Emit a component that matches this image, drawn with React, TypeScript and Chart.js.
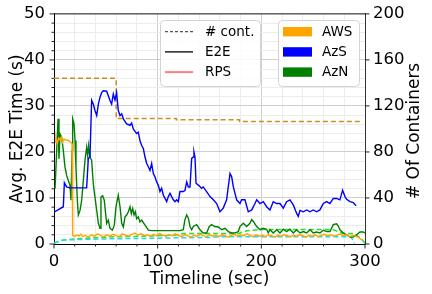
import React, { useEffect, useRef } from 'react';
import { Chart, registerables } from 'chart.js';

Chart.register(...registerables);

const FONT = '"DejaVu Sans", sans-serif';

// E2E time (s), pairs of [time sec, value]
const azsE2E: [number, number][] = [
  [0, 6.9], [9, 8.1], [10, 13.3], [12.2, 12.4], [15.4, 12.2], [31.5, 12.2], [33.1, 18.6], [34.7, 18.9],
  [36.3, 31.2], [37.9, 30.4], [39.5, 29.0], [41.2, 27.9], [42.8, 30.4], [44.4, 31.9], [46, 32.9], [47.6, 33.3],
  [50.8, 33.2], [52.4, 32.2], [54, 31.2], [55.6, 30.4], [57.2, 32.6], [58.8, 31.3], [60.4, 32.9], [62, 29.0],
  [63.7, 27.9], [65.3, 28.3], [66.9, 27.2], [70.1, 26.1], [73.3, 25.8], [74.9, 26.3], [76.5, 25.0], [79.7, 24.0],
  [81.3, 24.3], [82.9, 22.5], [84.6, 21.4], [86.2, 20.7], [87.8, 18.9], [89.4, 17.5], [91, 16.8], [92.6, 16.0],
  [94.2, 17.5], [95.8, 15.3], [97.4, 14.6], [99, 13.5], [100.6, 12.8], [102.2, 11.4], [103.8, 12.1], [105.5, 10.6],
  [107.1, 9.9], [108.7, 9.2], [110.3, 10.3], [111.9, 11.0], [113.5, 10.3], [115.1, 9.6], [116.7, 9.2], [118.3, 9.6],
  [119.9, 9.2], [121.5, 11.4], [124.7, 11.4], [126.3, 11.6], [128, 13.5], [129.6, 12.4], [131.2, 12.4], [132.8, 18.6],
  [134.4, 18.9], [135, 20.0], [136, 18.9], [137, 13.2], [139.2, 12.8], [142.4, 12.1], [144, 12.4], [147.2, 11.4],
  [150.5, 10.3], [153.7, 9.6], [156.9, 8.8], [160.1, 7.0], [163.3, 7.8], [166.5, 9.6], [168.1, 12.4], [169.8, 15.3],
  [171.4, 14.6], [173, 12.4], [176.2, 9.6], [177.8, 9.2], [179.4, 8.8], [181, 9.6], [184.2, 9.6], [187.4, 7.0],
  [190.7, 7.4], [193.9, 8.8], [195.5, 9.6], [198.7, 8.8], [201.9, 9.2], [205.1, 8.1], [208.3, 7.4], [211.5, 9.2],
  [214.8, 8.8], [218, 8.8], [221.2, 7.8], [224.4, 9.2], [227.6, 9.6], [230.8, 8.5], [234, 6.7], [235.6, 6.0],
  [237.3, 7.3], [240.5, 7.0], [243.7, 7.4], [246.9, 7.0], [250.1, 7.4], [253.3, 7.0], [256.5, 7.4], [259.8, 8.8],
  [263, 9.2], [266.2, 8.8], [269.4, 9.9], [272.6, 9.9], [275.8, 9.6], [278.4, 11.7], [280.7, 10.3], [282.3, 9.7],
  [285.5, 9.2], [288.7, 9.0], [291.3, 8.3],
];

const aznE2E: [number, number][] = [
  [1, 12.0], [2.6, 20.3], [3.9, 27.2], [4.8, 18.5], [5.8, 23.9], [7.4, 23.2], [9.0, 20.3], [10.6, 16.7],
  [12.2, 14.9], [13.8, 13.8], [15.4, 12.8], [16.4, 9.5], [17.4, 20.3], [18.0, 27.2], [19.3, 26.1], [20.3, 22.5],
  [21.2, 16.7], [22.5, 9.5], [23.5, 6.3], [25.1, 7.3], [26.7, 9.5], [28.3, 13.8], [29.9, 18.2], [31.5, 21.0],
  [32.5, 19.2], [33.4, 21.4], [34.7, 18.9], [36.3, 18.2], [37.9, 13.1], [39.5, 10.2], [41.2, 7.3], [42.8, 4.5],
  [44.4, 3.4], [45.3, 10.2], [46.9, 10.5], [48.5, 9.5], [49.8, 6.6], [50.8, 4.5], [52.4, 5.2], [54, 3.4],
  [56.3, 3.0], [58.2, 4.1], [59.8, 8.1], [62, 10.6], [63.7, 8.1], [65.3, 4.5], [66.9, 3.7], [68.5, 5.9],
  [70.1, 6.3], [71.7, 7.0], [73.3, 8.1], [74.6, 6.6], [75.9, 7.7], [77.2, 6.3], [78.5, 7.0], [79.7, 5.5],
  [81.3, 5.9], [82.9, 4.8], [84.6, 5.2], [87.8, 4.1], [91, 3.0], [94.2, 2.9], [121.5, 2.9], [124.7, 3.1],
  [126.3, 5.3], [128, 6.3], [129.6, 5.6], [131.2, 3.8], [132.8, 3.1], [134.4, 3.8], [137.6, 4.2], [140.8, 3.1],
  [144, 2.4], [147.2, 2.4], [149.8, 3.8], [152, 4.2], [155, 3.8], [158.5, 3.7], [161.7, 3.1], [165, 3.4],
  [168.1, 2.7], [171.4, 2.4], [174.6, 2.4], [177.8, 2.7], [179.4, 3.8], [182.6, 4.5], [185.8, 3.8], [189, 4.5],
  [190.7, 5.3], [192.3, 4.9], [195.5, 3.8], [198.7, 3.1], [201.9, 3.4], [205.1, 3.2], [206.7, 2.4], [208.3, 3.1],
  [211.5, 2.4], [214.8, 3.1], [218, 2.4], [221.2, 3.2], [224.4, 2.7], [227.6, 3.2], [230.8, 2.4], [234, 3.1],
  [237.3, 2.4], [240.5, 2.7], [243.7, 2.4], [247, 3.1], [250.1, 2.4], [253.3, 2.6], [256.5, 2.4], [259.8, 3.0],
  [263, 2.7], [266.2, 2.7], [269.4, 4.2], [272.6, 4.4], [274.2, 3.9], [275.8, 3.1], [279, 2.4], [282.3, 2.0],
  [285.5, 1.5], [288.7, 1.5], [291.9, 2.0], [295.1, 2.6], [298.4, 2.6], [300, 2.4],
];

const awsE2E: [number, number][] = [
  [1, 22.1], [1.9, 23.2], [3.2, 21.8], [4.5, 23.0], [5.8, 22.6], [7.1, 23.2], [8.4, 22.1], [9.6, 22.8],
  [11.6, 22.6], [13.8, 22.5], [16.1, 22.1], [17.4, 21.8], [18, 1.9], [20, 1.6], [22, 2.0], [24, 1.7],
  [26, 2.1], [28, 1.6], [30, 1.9], [33, 1.5], [36, 2.0], [39, 1.7], [42, 2.2], [45, 1.8], [48, 1.6],
  [51, 2.0], [54, 1.7], [57, 2.1], [60, 1.8], [63, 1.6], [66, 2.2], [69, 1.9], [72, 1.7], [75, 2.1],
  [78, 2.4], [81, 1.9], [84, 2.2], [87, 1.8], [90, 2.0], [93, 1.7], [96, 2.1], [99, 1.8], [102, 2.3],
  [105, 1.9], [108, 1.7], [111, 2.0], [114, 1.8], [117, 2.2], [120, 1.9], [123, 1.6], [126, 2.0],
  [129, 1.8], [132, 1.5], [135, 1.9], [138, 1.7], [141, 2.1], [144, 1.8], [147, 1.6], [150, 2.0],
  [153, 1.7], [156, 1.9], [159, 1.6], [162, 2.0], [165, 1.8], [168, 1.5], [171, 1.9], [174, 2.1],
  [177, 1.7], [180, 2.0], [183, 1.8], [186, 2.2], [189, 1.9], [192, 1.6], [195, 2.0], [198, 1.7],
  [201, 1.9], [204, 1.6], [207, 2.0], [210, 1.8], [213, 1.5], [216, 1.9], [219, 1.7], [222, 2.0],
  [225, 1.8], [228, 1.6], [231, 1.9], [234, 1.7], [237, 2.0], [240, 1.8], [243, 1.5], [246, 1.9],
  [249, 1.7], [252, 2.0], [255, 1.6], [258, 1.9], [261, 2.1], [264, 1.8], [267, 2.0], [270, 1.7],
  [273, 1.9], [276, 2.2], [279, 1.8], [282, 2.0], [285, 1.6], [288, 1.9], [291, 1.7], [294, 1.4], [296.7, 0.9],
];

// # of containers (right axis)
const awsCont: [number, number][] = [[0, 144], [60, 144], [60, 109], [118, 109], [118, 108], [179, 108], [179, 106.5], [295, 106.5]];
const azsCont: [number, number][] = [
  [0, 0.6], [3, 1.8], [9, 3.5], [20, 3.8], [28, 4.0], [60, 4.6], [93, 4.9], [124, 5.5], [150, 5.6],
  [160, 6.3], [286, 6.3], [288, 4.0], [290, 0.6],
];
const aznCont: [number, number][] = [
  [0, 0.6], [6, 2.9], [15, 4], [28, 4.9], [60, 6.3], [93, 6.9], [118, 7.8], [125, 9.2], [178, 9.2],
  [186, 11.5], [200, 12.7], [268, 12.7], [272, 11.5], [279, 9.2], [290, 9.2], [297, 4], [300, 0.6],
];

const legendLeft = ['# cont.', 'E2E', 'RPS'];
const legendRight = ['AWS', 'AzS', 'AzN'];

const toXY = (arr: [number, number][]) => arr.map(([x, y]) => ({ x, y }));

const decor = {
  id: 'decor',
  afterDraw(chart: any) {
    const ctx = chart.ctx as CanvasRenderingContext2D;
    const { left, right, top, bottom } = chart.chartArea;
    const ys = chart.scales.y;
    const y1 = chart.scales.y1;
    const xs = chart.scales.x;
    ctx.save();
    // top spine
    ctx.strokeStyle = '#222';
    ctx.lineWidth = 1;
    ctx.beginPath();
    ctx.moveTo(left, top);
    ctx.lineTo(right, top);
    ctx.stroke();
    // tick marks
    ctx.strokeStyle = '#222';
    ctx.lineWidth = 1;
    for (let v = 0; v <= 50; v += 2) {
      const p = ys.getPixelForValue(v);
      const len = v % 10 === 0 ? 4.5 : 2.5;
      ctx.beginPath();
      ctx.moveTo(left - len, p);
      ctx.lineTo(left, p);
      ctx.stroke();
    }
    for (let v = 0; v <= 300; v += 20) {
      const p = xs.getPixelForValue(v);
      const len = v % 100 === 0 ? 4.5 : 2.5;
      ctx.beginPath();
      ctx.moveTo(p, bottom);
      ctx.lineTo(p, bottom + len);
      ctx.stroke();
    }
    for (let v = 0; v <= 200; v += 40) {
      const p = y1.getPixelForValue(v);
      ctx.beginPath();
      ctx.moveTo(right, p);
      ctx.lineTo(right + 4.5, p);
      ctx.stroke();
    }
    // right title
    ctx.fillStyle = '#000';
    ctx.font = `17px ${FONT}`;
    ctx.textAlign = 'center';
    ctx.textBaseline = 'middle';
    ctx.save();
    ctx.translate(415, (top + bottom) / 2 + 2);
    ctx.rotate(-Math.PI / 2);
    ctx.fillText('# Of Containers', 0, 0);
    ctx.restore();

    // legends
    const rows = [31.7, 51.9, 72.1];
    const box = (x: number, y: number, w: number, h: number) => {
      ctx.beginPath();
      (ctx as any).roundRect(x, y, w, h, 4);
      ctx.fillStyle = 'rgba(255,255,255,0.85)';
      ctx.fill();
      ctx.strokeStyle = '#d3d3d3';
      ctx.lineWidth = 1;
      ctx.stroke();
    };
    box(160.5, 20.5, 100, 66);
    box(278.5, 20.5, 81, 66);
    const lineStyles = [
      { c: '#555555', dash: [3, 2], w: 1.2 },
      { c: '#000000', dash: [], w: 1.3 },
      { c: '#ff7f7f', dash: [], w: 2 },
    ];
    ctx.font = `13.5px ${FONT}`;
    ctx.textAlign = 'left';
    ctx.textBaseline = 'middle';
    legendLeft.forEach((lab, i) => {
      const s = lineStyles[i];
      ctx.strokeStyle = s.c;
      ctx.lineWidth = s.w;
      ctx.setLineDash(s.dash);
      ctx.beginPath();
      ctx.moveTo(165, rows[i]);
      ctx.lineTo(193, rows[i]);
      ctx.stroke();
      ctx.setLineDash([]);
      ctx.fillStyle = '#000';
      ctx.fillText(lab, 205, rows[i] + 0.5);
    });
    const patchColors = ['#FFA500', '#0000FF', '#008000'];
    legendRight.forEach((lab, i) => {
      ctx.fillStyle = patchColors[i];
      ctx.fillRect(283, rows[i] - 4.7, 29, 9.4);
      ctx.fillStyle = '#000';
      ctx.fillText(lab, 322, rows[i] + 0.5);
    });
    ctx.restore();
  },
};

export default function App() {
  const ref = useRef<HTMLCanvasElement>(null);
  useEffect(() => {
    if (!ref.current) return;
    const line = (data: [number, number][], color: string, axis: string, dashed: boolean) => ({
      data: toXY(data),
      borderColor: color,
      backgroundColor: color,
      borderWidth: dashed ? 1.5 : 1.4,
      borderDash: dashed ? [5, 3] : [],
      pointRadius: 0,
      tension: 0,
      fill: false,
      yAxisID: axis,
    });
    const chart = new Chart(ref.current, {
      type: 'line',
      data: {
        datasets: [
          line(azsE2E, '#0000FF', 'y', false),
          line(awsE2E, '#FFA500', 'y', false),
          line(aznE2E, '#008000', 'y', false),
          line(azsCont, '#22D8E8', 'y1', true),
          line(aznCont, '#2EDD2E', 'y1', true),
          line(awsCont, '#C8901E', 'y1', true),
        ] as any,
      },
      options: {
        responsive: false,
        animation: false,
        devicePixelRatio: 1,
        parsing: false as any,
        layout: { padding: { top: 13, left: 0, right: 0, bottom: 0 } },
        plugins: { legend: { display: false }, tooltip: { enabled: false } },
        scales: {
          x: {
            type: 'linear',
            min: 0,
            max: 300,
            afterFit: (s: any) => { s.height = 50; },
            ticks: {
              stepSize: 20,
              autoSkip: false,
              maxRotation: 0,
              padding: 3,
              color: '#000',
              font: { size: 16.5, family: FONT },
              callback: (v: any) => (v % 100 === 0 ? String(v) : ''),
            },
            grid: {
              color: (c: any) => (c.tick && c.tick.value % 100 === 0 ? '#cfcfcf' : '#ececec'),
              tickLength: 5,
              tickColor: 'rgba(0,0,0,0)',
            },
            border: { display: true, color: '#000', width: 1 },
            title: {
              display: true,
              text: 'Timeline (sec)',
              color: '#000',
              font: { size: 17, family: FONT },
              padding: { top: 0, bottom: 4 },
            },
          },
          y: {
            type: 'linear',
            position: 'left',
            min: 0,
            max: 50,
            afterFit: (s: any) => { s.width = 54; },
            ticks: {
              stepSize: 2,
              autoSkip: false,
              padding: 4,
              color: '#000',
              font: { size: 16.5, family: FONT },
              callback: (v: any) => (v % 10 === 0 ? String(v) : ''),
            },
            grid: {
              color: (c: any) => (c.tick && c.tick.value % 10 === 0 ? '#cfcfcf' : '#ececec'),
              tickLength: 5,
              tickColor: 'rgba(0,0,0,0)',
            },
            border: { display: true, color: '#000', width: 1 },
            title: {
              display: true,
              text: 'Avg. E2E Time (s)',
              color: '#000',
              font: { size: 17, family: FONT },
              padding: { top: 7, bottom: 0 },
            },
          },
          y1: {
            type: 'linear',
            position: 'right',
            min: 0,
            max: 200,
            afterFit: (s: any) => { s.width = 67; },
            ticks: {
              stepSize: 40,
              autoSkip: false,
              padding: 3,
              color: '#000',
              font: { size: 16.5, family: FONT },
            },
            grid: { drawOnChartArea: false, tickLength: 5, tickColor: 'rgba(0,0,0,0)' },
            border: { display: true, color: '#333', width: 1 },
          },
        },
      } as any,
      plugins: [decor],
    });
    return () => chart.destroy();
  }, []);
  return (
    <div style={{ position: 'fixed', left: 0, top: 0, width: 432, height: 294, background: '#fff' }}>
      <canvas ref={ref} width={432} height={294} style={{ width: 432, height: 294, display: 'block' }} />
    </div>
  );
}
